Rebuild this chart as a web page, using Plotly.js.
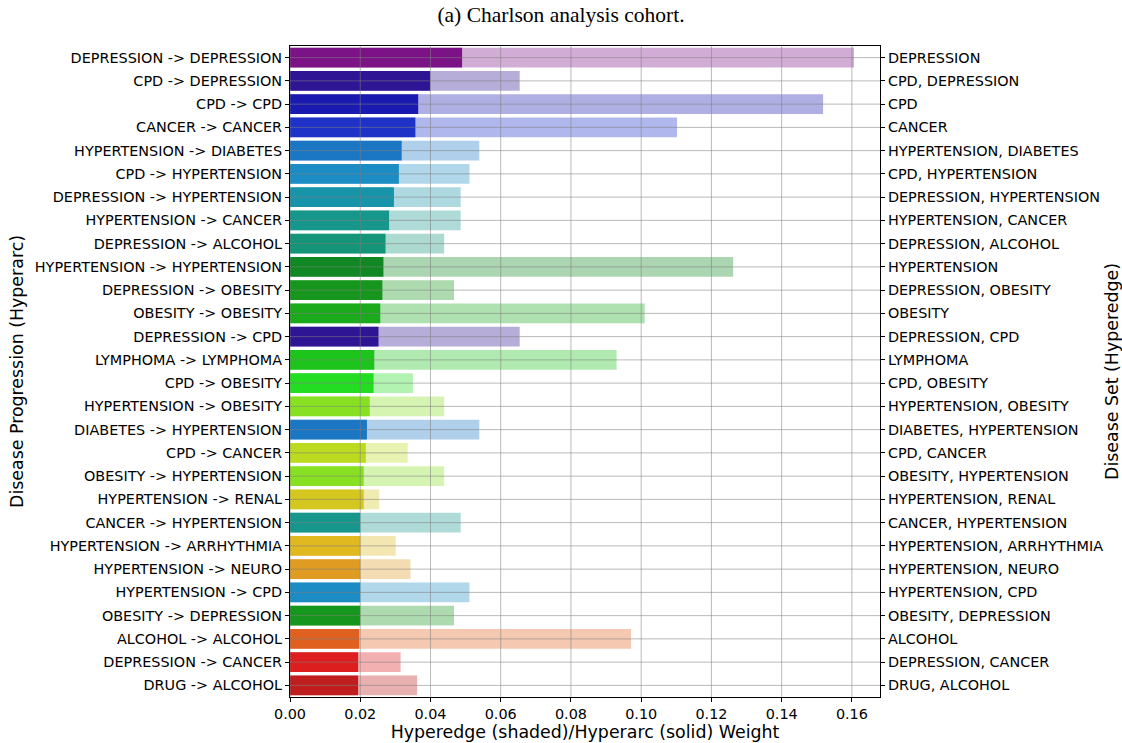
<!DOCTYPE html>
<html><head><meta charset="utf-8">
<script src="https://cdn.plot.ly/plotly-3.0.1.min.js"></script>
<style>html,body{margin:0;padding:0;background:#fff}#chart{width:1122px;height:743px}</style>
</head><body><div id="chart"></div>
<script>
const hyperarcs = ["DEPRESSION -> DEPRESSION","CPD -> DEPRESSION","CPD -> CPD","CANCER -> CANCER","HYPERTENSION -> DIABETES","CPD -> HYPERTENSION","DEPRESSION -> HYPERTENSION","HYPERTENSION -> CANCER","DEPRESSION -> ALCOHOL","HYPERTENSION -> HYPERTENSION","DEPRESSION -> OBESITY","OBESITY -> OBESITY","DEPRESSION -> CPD","LYMPHOMA -> LYMPHOMA","CPD -> OBESITY","HYPERTENSION -> OBESITY","DIABETES -> HYPERTENSION","CPD -> CANCER","OBESITY -> HYPERTENSION","HYPERTENSION -> RENAL","CANCER -> HYPERTENSION","HYPERTENSION -> ARRHYTHMIA","HYPERTENSION -> NEURO","HYPERTENSION -> CPD","OBESITY -> DEPRESSION","ALCOHOL -> ALCOHOL","DEPRESSION -> CANCER","DRUG -> ALCOHOL"];
const hyperedges = ["DEPRESSION","CPD, DEPRESSION","CPD","CANCER","HYPERTENSION, DIABETES","CPD, HYPERTENSION","DEPRESSION, HYPERTENSION","HYPERTENSION, CANCER","DEPRESSION, ALCOHOL","HYPERTENSION","DEPRESSION, OBESITY","OBESITY","DEPRESSION, CPD","LYMPHOMA","CPD, OBESITY","HYPERTENSION, OBESITY","DIABETES, HYPERTENSION","CPD, CANCER","OBESITY, HYPERTENSION","HYPERTENSION, RENAL","CANCER, HYPERTENSION","HYPERTENSION, ARRHYTHMIA","HYPERTENSION, NEURO","HYPERTENSION, CPD","OBESITY, DEPRESSION","ALCOHOL","DEPRESSION, CANCER","DRUG, ALCOHOL"];
const hyperarcWeight = [0.0490,0.0399,0.0365,0.0357,0.0318,0.0310,0.0296,0.0282,0.0272,0.0266,0.0263,0.0257,0.0252,0.0240,0.0238,0.0227,0.0219,0.0216,0.0210,0.0210,0.0200,0.0200,0.0200,0.0200,0.0200,0.0197,0.0194,0.0194];
const hyperedgeWeight = [0.1606,0.0654,0.1518,0.1102,0.0539,0.0511,0.0486,0.0486,0.0439,0.1262,0.0467,0.1010,0.0654,0.0930,0.0350,0.0439,0.0539,0.0335,0.0439,0.0254,0.0486,0.0301,0.0343,0.0511,0.0467,0.0971,0.0315,0.0362];
const barColors = ["#7b1285","#2e1593","#1a1ab0","#1e32c8","#1b76c4","#1c8cc4","#1793aa","#17968c","#149478","#118823","#16961c","#1aaa1c","#2e1593","#1cc41c","#22dd22","#88e022","#1b76c4","#bcdb20","#88e022","#d4c820","#17968c","#e0b820","#e09c22","#1c8cc4","#16961c","#e06020","#dc1e1e","#c01e1e"];
const xTicks = [0,0.02,0.04,0.06,0.08,0.10,0.12,0.14,0.16];

function rgba(hex,a){const n=parseInt(hex.slice(1),16);return `rgba(${n>>16},${(n>>8)&255},${n&255},${a})`;}
const idx = hyperarcs.map((_,i)=>i);
const n = idx.length;
const yr = [n-0.5,-0.5];
const fnt = {family:"DejaVu Sans", size:14.4, color:"#000"};
const tfnt = {family:"DejaVu Sans", size:17.4, color:"#000"};

const traces = [
 {type:'bar',orientation:'h',x:hyperedgeWeight,y:idx,width:0.84,marker:{color:barColors.map(c=>rgba(c,0.35)),line:{width:0}},hoverinfo:'skip',showlegend:false},
 {type:'bar',orientation:'h',x:hyperarcWeight,y:idx,width:0.84,marker:{color:barColors,line:{width:0}},hoverinfo:'skip',showlegend:false},
 {type:'scatter',mode:'markers',x:hyperarcWeight,y:idx,yaxis:'y2',marker:{opacity:0},hoverinfo:'skip',showlegend:false}
];

const shapes = [];
xTicks.forEach(v=>shapes.push({type:'line',xref:'x',yref:'paper',x0:v,x1:v,y0:0,y1:1,layer:'above',line:{color:'rgba(128,128,128,0.55)',width:1}}));
idx.forEach(v=>shapes.push({type:'line',xref:'paper',yref:'y',x0:0,x1:1,y0:v,y1:v,layer:'above',line:{color:'rgba(128,128,128,0.55)',width:1}}));

const layout = {
 width:1122,height:743,
 margin:{l:290,r:242,t:46,b:46},
 paper_bgcolor:'#fff',plot_bgcolor:'#fff',
 barmode:'overlay',
 title:{text:'(a) Charlson analysis cohort.',font:{family:'Liberation Serif',size:21.5,color:'#000'},x:0.5,xanchor:'center',y:0.99,yanchor:'top'},
 xaxis:{range:[0,0.168],tickvals:xTicks,ticktext:xTicks.map(v=>v.toFixed(2)),ticks:'outside',ticklen:4,tickcolor:'#000',showgrid:false,zeroline:false,showline:true,linecolor:'#000',linewidth:1,mirror:true,tickfont:fnt,
   title:{text:'Hyperedge (shaded)/Hyperarc (solid) Weight',font:tfnt,standoff:2}},
 yaxis:{range:yr,tickvals:idx,ticktext:hyperarcs,ticks:'outside',ticklen:4,tickcolor:'#000',showgrid:false,zeroline:false,showline:true,linecolor:'#000',linewidth:1,mirror:true,tickfont:fnt,
   title:{text:'Disease Progression (Hyperarc)',font:tfnt,standoff:6}},
 yaxis2:{overlaying:'y',side:'right',range:yr,tickvals:idx,ticktext:hyperedges,ticks:'outside',ticklen:4,tickcolor:'#000',showgrid:false,zeroline:false,showline:false,tickfont:fnt,
   title:{text:'Disease Set (Hyperedge)',font:tfnt,standoff:6}},
 shapes:shapes
};
Plotly.newPlot('chart',traces,layout,{displayModeBar:false,staticPlot:true});
</script></body></html>
